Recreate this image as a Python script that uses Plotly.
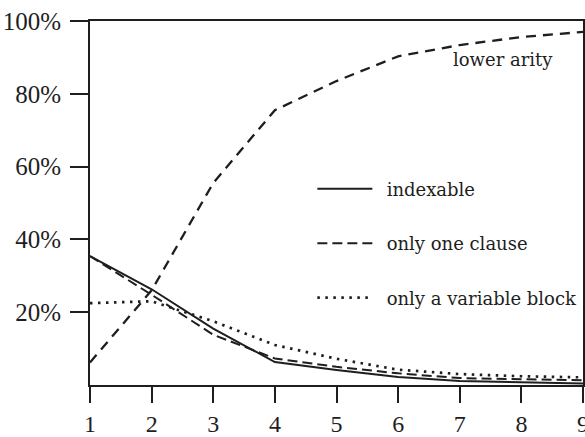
import plotly.graph_objects as go

x_vals = [1, 2, 3, 4, 5, 6, 7, 8, 9]
lower_arity = [6.2, 26.0, 55.5, 75.5, 83.5, 90.3, 93.4, 95.6, 97.0]
indexable = [35.4, 26.3, 15.5, 6.3, 4.1, 2.2, 1.1, 0.7, 0.4]
one_clause = [35.4, 24.8, 13.8, 7.3, 5.0, 3.2, 1.9, 1.6, 1.3]
var_block = [22.5, 23.0, 17.5, 11.0, 7.2, 4.2, 3.0, 2.4, 2.1]
y_ticks = [20, 40, 60, 80, 100]
y_tick_text = ["20%", "40%", "60%", "80%", "100%"]

ink = "#1e1e1e"
pad = "\u00a0\u2009"
fig = go.Figure()
fig.add_trace(go.Scatter(x=x_vals, y=lower_arity, mode="lines", showlegend=False,
                         line=dict(color=ink, width=2.3, dash="10px,7px")))
fig.add_trace(go.Scatter(x=x_vals, y=indexable, mode="lines", name=pad + "indexable", legendgroup="a",
                         line=dict(color=ink, width=2)))
fig.add_trace(go.Scatter(x=x_vals, y=one_clause, mode="lines", name=pad + "only one clause", legendgroup="b",
                         line=dict(color=ink, width=2, dash="10px,5px")))
fig.add_trace(go.Scatter(x=x_vals, y=var_block, mode="lines", name=pad + "only a variable block", legendgroup="c",
                         line=dict(color=ink, width=2.7, dash="2.5px,5.5px")))

fig.add_annotation(x=7.7, y=89.3, text="lower arity", showarrow=False,
                   font=dict(family="DejaVu Serif", size=18, color=ink))

fig.update_layout(
    width=585, height=437,
    margin=dict(l=90, r=2, t=21, b=52),
    plot_bgcolor="white", paper_bgcolor="white",
    font=dict(family="Liberation Serif", size=25, color=ink),
    legend=dict(x=0.451, y=0.589, xanchor="left", yanchor="top",
                font=dict(family="DejaVu Serif", size=18, color=ink),
                bgcolor="rgba(0,0,0,0)", itemwidth=55, tracegroupgap=28),
)
fig.update_xaxes(range=[1, 9], tickvals=x_vals, showgrid=False, zeroline=False,
                 showline=True, linecolor=ink, linewidth=2, mirror=True,
                 ticks="outside", ticklen=16, tickwidth=2, tickcolor=ink,
                 tickfont=dict(size=24),
                 ticklabeloverflow="allow", automargin=False)
fig.update_yaxes(range=[0, 100], tickvals=y_ticks, ticktext=y_tick_text, showgrid=False,
                 zeroline=False, showline=True, linecolor=ink, linewidth=2, mirror=True,
                 ticks="outside", ticklen=18, tickwidth=2, tickcolor=ink,
                 ticklabelstandoff=4, automargin=False)

fig.write_html("out.html")
